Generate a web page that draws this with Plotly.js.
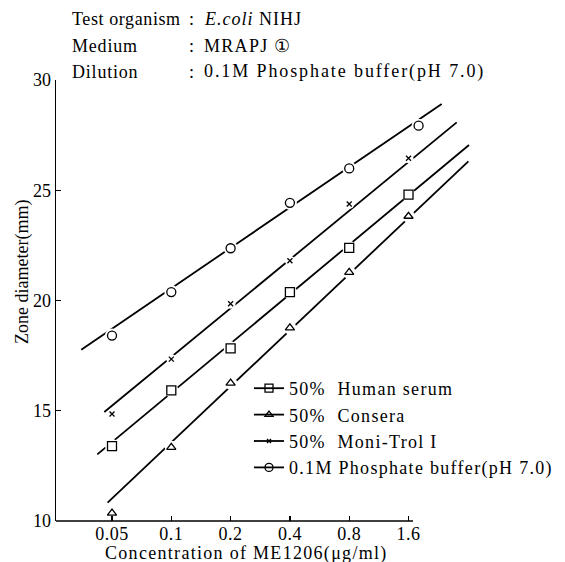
<!DOCTYPE html>
<html>
<head>
<meta charset="utf-8">
<script src="https://cdn.plot.ly/plotly-3.0.1.min.js"></script>
<style>
html,body{margin:0;padding:0;background:#fff;}
#chart{width:565px;height:562px;}
</style>
</head>
<body>
<div id="chart"></div>
<script>
// ---- data ----
const xTickVals = [0.05, 0.1, 0.2, 0.4, 0.8, 1.6];
const xTickText = ['0.05', '0.1', '0.2', '0.4', '0.8', '1.6'];
const yTickVals = [10, 15, 20, 25, 30];

const seriesNames = ['50%  Human serum', '50%  Consera', '50%  Moni-Trol I', '0.1M Phosphate buffer(pH 7.0)'];

const humanX = [0.05, 0.1, 0.2, 0.4, 0.8, 1.6];
const humanY = [13.40, 15.92, 17.83, 20.38, 22.39, 24.80];
const conseraX = [0.05, 0.1, 0.2, 0.4, 0.8, 1.6];
const conseraY = [10.36, 13.34, 16.25, 18.76, 21.28, 23.82];
const moniX = [0.05, 0.1, 0.2, 0.4, 0.8, 1.6];
const moniY = [14.85, 17.34, 19.85, 21.80, 24.38, 26.45];
const phosX = [0.05, 0.1, 0.2, 0.4, 0.8, 1.8];
const phosY = [18.41, 20.38, 22.37, 24.43, 25.99, 27.93];

// regression lines drawn in the figure (end points)
const humanFitX = [0.0421, 3.245];
const humanFitY = [13.02, 27.05];
const conseraFitX = [0.0475, 3.22];
const conseraFitY = [10.83, 26.31];
const moniFitX = [0.0457, 2.81];
const moniFitY = [14.94, 28.08];
const phosFitX = [0.0349, 2.358];
const phosFitY = [17.77, 28.91];

// ---- layout helpers ----
const W = 565, H = 562;
const L = 56, R = 480, T = 80, B = 521;
const px = x => (x - L) / (R - L);
const py = y => (B - y) / (B - T);
const FONT = 'Liberation Serif, Times New Roman, serif';
const sp = (t, s) => '<span style="letter-spacing:' + (s === undefined ? 1.3 : s) + 'px">' + t + '</span>';

const series = [
  {name: seriesNames[0], x: humanX, y: humanY, fx: humanFitX, fy: humanFitY, sym: 'square-open', size: 9},
  {name: seriesNames[1], x: conseraX, y: conseraY, fx: conseraFitX, fy: conseraFitY, sym: 'triangle-up-open', size: 8},
  {name: seriesNames[2], x: moniX, y: moniY, fx: moniFitX, fy: moniFitY, sym: 'x-thin-open', size: 5},
  {name: seriesNames[3], x: phosX, y: phosY, fx: phosFitX, fy: phosFitY, sym: 'circle-open', size: 9}
];

const traces = [];
series.forEach((s, i) => {
  traces.push({x: s.fx, y: s.fy, mode: 'lines', line: {color: '#000', width: 1.8}, showlegend: false, hoverinfo: 'skip'});
});
series.forEach((s, i) => {
  traces.push({x: s.x, y: s.y, mode: 'markers', marker: {symbol: 'circle', color: '#fff', size: s.size + 5, line: {width: 0}}, showlegend: false, hoverinfo: 'skip'});
  traces.push({x: s.x, y: s.y, mode: 'markers', marker: {symbol: s.sym, color: '#000', size: s.size, line: {color: '#000', width: 1.3}}, showlegend: false});
});
series.forEach((s, i) => {
  traces.push({x: [null], y: [null], name: sp(s.name), legendgroup: 'g' + i, mode: 'lines+markers',
    line: {color: '#000', width: 1.8},
    marker: {symbol: s.sym, color: '#000', size: s.size - 1, line: {color: '#000', width: 1.3}}, showlegend: true});
});

const hdr = (txt, x, y, s) => ({text: sp(txt, s), xref: 'paper', yref: 'paper', x: px(x), y: py(y), xanchor: 'left', yanchor: 'middle', showarrow: false, font: {family: FONT, size: 18, color: '#000'}});

const layout = {
  width: W, height: H,
  margin: {l: L, r: W - R, t: T, b: H - B, pad: 0, autoexpand: false},
  paper_bgcolor: '#fff', plot_bgcolor: '#fff',
  font: {family: FONT, size: 18, color: '#000'},
  xaxis: {
    type: 'log', range: [Math.log10(0.05) - 56 / 197, Math.log10(0.05) + (R - L - 56) / 197],
    tickvals: xTickVals, ticktext: xTickText.map(t => sp(t, 0.5)), ticks: 'inside', ticklen: 5, tickwidth: 1.2, tickcolor: '#000',
    showline: false, showgrid: false, zeroline: false, fixedrange: true, automargin: false,
    tickfont: {family: FONT, size: 18}
  },
  yaxis: {
    range: [10, 30], tickvals: yTickVals, ticks: 'inside', ticklen: 5, tickwidth: 1.2, tickcolor: '#000',
    showline: true, linecolor: '#000', linewidth: 1.5, showgrid: false, zeroline: false, fixedrange: true, automargin: false,
    tickfont: {family: FONT, size: 18}
  },
  shapes: [
    {type: 'line', xref: 'paper', yref: 'paper', x0: 0, x1: px(413), y0: 0, y1: 0, line: {color: '#000', width: 1.5}}
  ],
  legend: {
    x: px(249), y: py(370), xanchor: 'left', yanchor: 'top', bgcolor: 'rgba(0,0,0,0)',
    font: {family: FONT, size: 18}, traceorder: 'grouped', tracegroupgap: 0, itemwidth: 30
  },
  annotations: [
    hdr('Test organism', 70, 19, 0.6), hdr(':', 187, 19), hdr('<i>E.coli</i> NIHJ', 202, 19, 1.0),
    hdr('Medium', 70, 46, 0.8), hdr(':', 187, 46), hdr('MRAPJ ①', 202, 46),
    hdr('Dilution', 70, 72, 0.8), hdr(':', 187, 72), hdr('0.1M Phosphate buffer(pH 7.0)', 202, 72, 1.9),
    {text: 'Zone diameter(mm)', xref: 'paper', yref: 'paper', x: px(22), y: py(272), textangle: -90, xanchor: 'center', yanchor: 'middle', showarrow: false, font: {family: FONT, size: 18}},
    {text: sp('Concentration of ME1206(μg/ml)'), xref: 'paper', yref: 'paper', x: px(103), y: py(553), xanchor: 'left', yanchor: 'middle', showarrow: false, font: {family: FONT, size: 18}}
  ]
};

Plotly.newPlot('chart', traces, layout, {staticPlot: true, displayModeBar: false});
</script>
</body>
</html>
